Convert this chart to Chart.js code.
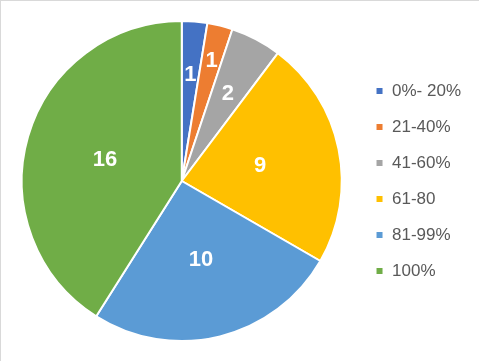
<!DOCTYPE html>
<html>
<head>
<meta charset="utf-8">
<script src="https://cdn.jsdelivr.net/npm/chart.js@4.4.1/dist/chart.umd.min.js"></script>
<style>
  html, body { margin: 0; padding: 0; background: #fff; }
  #wrap { position: relative; width: 479px; height: 361px; }
  #frame { position: absolute; left: 0; top: 0; width: 479px; height: 361px; box-sizing: border-box;
           border-top: 1px solid #d9d9d9; border-left: 1px solid #d9d9d9; pointer-events: none; }
</style>
</head>
<body>
<div id="wrap">
  <canvas id="pieChart" width="479" height="361"></canvas>
  <div id="frame"></div>
</div>
<script>
const categories = ['0%- 20%', '21-40%', '41-60%', '61-80', '81-99%', '100%'];
const counts = [1, 1, 2, 9, 10, 16];
const sliceColors = ['#4472C4', '#ED7D31', '#A5A5A5', '#FFC000', '#5B9BD5', '#70AD47'];

// labels on the arcs, pushed out a bit on the thin slices like excel does
const arcLabels = {
  id: 'arcLabels',
  afterDatasetsDraw(chart, args, opts) {
    const ctx = chart.ctx;
    const meta = chart.getDatasetMeta(0);
    ctx.save();
    ctx.fillStyle = '#fff';
    ctx.font = 'bold 22px "Liberation Sans", Arial, sans-serif';
    ctx.textAlign = 'center';
    ctx.textBaseline = 'middle';
    meta.data.forEach((arc, i) => {
      const p = arc.getProps(['x', 'y', 'startAngle', 'endAngle', 'outerRadius'], true);
      const mid = (p.startAngle + p.endAngle) / 2;
      const r = p.outerRadius * opts.radiusFactors[i];
      ctx.fillText(String(chart.data.datasets[0].data[i]), p.x + Math.cos(mid) * r, p.y + Math.sin(mid) * r + 1);
    });
    ctx.restore();
  }
};

const ctx = document.getElementById('pieChart').getContext('2d');
const myChart = new Chart(ctx, {
  type: 'pie',
  data: {
    labels: categories,
    datasets: [{
      data: counts,
      backgroundColor: sliceColors,
      borderColor: '#fff',
      borderWidth: 2
    }]
  },
  options: {
    responsive: false,
    animation: false,
    layout: {
      padding: { left: 7, right: 8, top: 20, bottom: 19 }
    },
    plugins: {
      tooltip: { enabled: false },
      legend: {
        position: 'right',
        labels: {
          boxWidth: 8,
          boxHeight: 8,
          padding: 19,
          color: '#595959',
          font: { size: 17, family: '"Liberation Sans", Arial, sans-serif' }
        }
      },
      arcLabels: {
        radiusFactors: [0.67, 0.78, 0.62, 0.5, 0.5, 0.5]
      }
    }
  },
  plugins: [arcLabels]
});
</script>
</body>
</html>
